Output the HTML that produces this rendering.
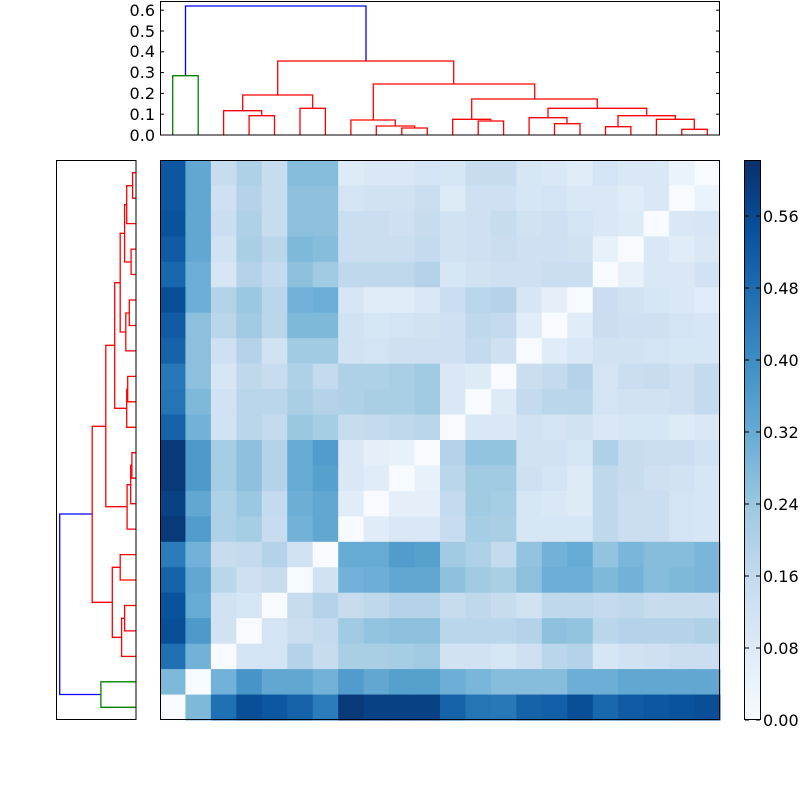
<!DOCTYPE html>
<html><head><meta charset="utf-8"><style>
html,body{margin:0;padding:0;background:#fff;width:800px;height:800px;overflow:hidden}
svg{display:block}
text{font-family:"DejaVu Sans","Liberation Sans",sans-serif;font-size:16px;fill:#000}
</style></head><body>
<svg id="s" width="800" height="800" xmlns="http://www.w3.org/2000/svg">
<defs>
<linearGradient id="cb" x1="0" y1="1" x2="0" y2="0">
<stop offset="0" stop-color="#f7fbff"/><stop offset="0.125" stop-color="#deebf7"/>
<stop offset="0.25" stop-color="#c6dbef"/><stop offset="0.375" stop-color="#9ecae1"/>
<stop offset="0.5" stop-color="#6baed6"/><stop offset="0.625" stop-color="#4292c6"/>
<stop offset="0.75" stop-color="#2171b5"/><stop offset="0.875" stop-color="#08519c"/>
<stop offset="1" stop-color="#08306b"/></linearGradient>
</defs>
<g id="heat"></g>
<g id="dtop" fill="none" stroke-width="1.3"></g>
<g id="dleft" fill="none" stroke-width="1.3"></g>
<rect x="160.5" y="1.5" width="559" height="133.5" fill="none" stroke="#000" stroke-width="1"/>
<rect x="56.5" y="160.5" width="79.5" height="559" fill="none" stroke="#000" stroke-width="1"/>
<rect x="160.5" y="160.5" width="559" height="559" fill="none" stroke="#000" stroke-width="1"/>
<rect x="745" y="160" width="15" height="560" fill="url(#cb)"/>
<rect x="744.5" y="160.5" width="16" height="559" fill="none" stroke="#000" stroke-width="1"/>
<g id="ticks" stroke="#000" stroke-width="1"></g>
<g text-anchor="end">
<text x="155" y="141">0.0</text><text x="155" y="120">0.1</text><text x="155" y="99">0.2</text>
<text x="155" y="78">0.3</text><text x="155" y="57">0.4</text><text x="155" y="37">0.5</text><text x="155" y="16">0.6</text>
</g>
<g>
<text x="763" y="726">0.00</text><text x="763" y="654">0.08</text><text x="763" y="582">0.16</text>
<text x="763" y="510">0.24</text><text x="763" y="438">0.32</text><text x="763" y="366">0.40</text>
<text x="763" y="294">0.48</text><text x="763" y="222">0.56</text>
</g>
</svg>
<script>
var M=[
[0.53,0.33,0.15,0.2,0.15,0.27,0.27,0.08,0.09,0.09,0.11,0.1,0.15,0.15,0.1,0.09,0.07,0.11,0.09,0.09,0.04,0],
[0.53,0.33,0.13,0.19,0.15,0.26,0.26,0.11,0.12,0.12,0.14,0.08,0.13,0.13,0.1,0.11,0.09,0.09,0.07,0.09,0,0.04],
[0.54,0.33,0.14,0.2,0.15,0.26,0.26,0.14,0.14,0.13,0.15,0.12,0.13,0.15,0.12,0.13,0.11,0.09,0.08,0,0.09,0.1],
[0.52,0.33,0.12,0.21,0.18,0.28,0.27,0.14,0.14,0.14,0.16,0.12,0.13,0.14,0.13,0.13,0.12,0.05,0,0.09,0.07,0.09],
[0.49,0.31,0.1,0.19,0.16,0.26,0.23,0.17,0.17,0.17,0.19,0.1,0.12,0.13,0.13,0.14,0.14,0,0.05,0.09,0.09,0.12],
[0.55,0.31,0.19,0.24,0.18,0.3,0.31,0.1,0.07,0.07,0.09,0.14,0.18,0.19,0.1,0.06,0,0.14,0.12,0.1,0.09,0.07],
[0.52,0.26,0.18,0.23,0.18,0.28,0.28,0.12,0.1,0.11,0.12,0.13,0.17,0.16,0.07,0,0.07,0.14,0.13,0.13,0.11,0.1],
[0.5,0.26,0.13,0.19,0.12,0.23,0.23,0.12,0.11,0.13,0.13,0.13,0.16,0.13,0,0.07,0.09,0.12,0.12,0.11,0.1,0.1],
[0.45,0.26,0.1,0.17,0.15,0.2,0.16,0.2,0.2,0.21,0.23,0.09,0.08,0,0.14,0.16,0.19,0.11,0.14,0.15,0.13,0.16],
[0.46,0.28,0.12,0.18,0.18,0.21,0.19,0.2,0.21,0.21,0.23,0.09,0,0.08,0.16,0.18,0.18,0.11,0.12,0.12,0.13,0.16],
[0.5,0.3,0.12,0.18,0.16,0.24,0.22,0.15,0.16,0.17,0.18,0,0.09,0.09,0.12,0.11,0.12,0.09,0.1,0.1,0.08,0.09],
[0.6,0.37,0.22,0.26,0.19,0.32,0.36,0.09,0.06,0.05,0,0.19,0.25,0.25,0.12,0.12,0.1,0.2,0.15,0.14,0.14,0.12],
[0.6,0.37,0.22,0.26,0.19,0.32,0.35,0.09,0.07,0,0.05,0.18,0.23,0.23,0.13,0.11,0.08,0.17,0.15,0.13,0.12,0.1],
[0.58,0.33,0.2,0.24,0.16,0.31,0.33,0.07,0,0.06,0.06,0.16,0.23,0.22,0.1,0.09,0.08,0.17,0.14,0.14,0.11,0.1],
[0.6,0.36,0.2,0.22,0.15,0.3,0.33,0,0.07,0.09,0.09,0.15,0.22,0.21,0.1,0.1,0.1,0.17,0.14,0.14,0.11,0.1],
[0.44,0.3,0.15,0.16,0.19,0.12,0,0.32,0.32,0.36,0.35,0.23,0.2,0.16,0.25,0.3,0.32,0.25,0.29,0.27,0.27,0.29],
[0.5,0.33,0.18,0.13,0.15,0,0.12,0.3,0.31,0.33,0.33,0.26,0.23,0.21,0.26,0.31,0.31,0.28,0.3,0.27,0.28,0.29],
[0.54,0.32,0.12,0.1,0,0.15,0.19,0.15,0.17,0.19,0.19,0.15,0.17,0.15,0.12,0.17,0.17,0.16,0.17,0.15,0.15,0.15],
[0.55,0.37,0.12,0,0.11,0.14,0.16,0.23,0.25,0.26,0.26,0.18,0.18,0.18,0.19,0.26,0.25,0.18,0.19,0.19,0.19,0.2],
[0.47,0.3,0,0.11,0.11,0.19,0.15,0.21,0.21,0.22,0.23,0.12,0.12,0.1,0.13,0.18,0.19,0.1,0.12,0.13,0.14,0.14],
[0.28,0,0.3,0.38,0.33,0.33,0.3,0.36,0.33,0.35,0.35,0.31,0.29,0.27,0.27,0.27,0.31,0.31,0.33,0.33,0.33,0.33],
[0,0.28,0.47,0.55,0.53,0.5,0.44,0.6,0.58,0.58,0.58,0.5,0.46,0.45,0.5,0.51,0.55,0.49,0.52,0.53,0.54,0.55]];
var C=[[247,251,255],[222,235,247],[198,219,239],[158,202,225],[107,174,214],[66,146,198],[33,113,181],[8,81,156],[8,48,107]];
function col(v){var f=Math.max(0,Math.min(1,v/0.622))*8,i=Math.min(7,Math.floor(f)),t=f-i;
var a=C[i],b=C[i+1];return 'rgb('+[0,1,2].map(function(k){return Math.round(a[k]+(b[k]-a[k])*t)}).join(',')+')';}
var NS='http://www.w3.org/2000/svg',cw=560/22,h='';
for(var r=0;r<22;r++)for(var c=0;c<22;c++){
h+='<rect x="'+(160+c*cw).toFixed(2)+'" y="'+(160+r*cw).toFixed(2)+'" width="'+(cw+0.5).toFixed(2)+'" height="'+(cw+0.5).toFixed(2)+'" fill="'+col(M[r][c])+'"/>';}
document.getElementById('heat').innerHTML=h;
// top dendrogram links: [xl, yl_bottom, xr, yr_bottom, ytop, color]
var L=[
[185.5,75.7,366,61,6,'#0000ff'],
[172.7,135,198.2,135,75.7,'#008000'],
[277.7,95,453.7,84,61,'#ff0000'],
[242.7,110.7,312.7,108.3,95,'#ff0000'],
[223.6,135,261.7,115.7,110.7,'#ff0000'],
[249.1,135,274.5,135,115.7,'#ff0000'],
[300,135,325.4,135,108.3,'#ff0000'],
[373.3,120,534.7,99,84,'#ff0000'],
[350.9,135,395.3,126,120,'#ff0000'],
[376.3,135,414.7,128,126,'#ff0000'],
[401.8,135,427.3,135,128,'#ff0000'],
[471.7,119.3,597.3,108.3,99,'#ff0000'],
[452.7,135,490.7,121,119.3,'#ff0000'],
[478.2,135,503.6,135,121,'#ff0000'],
[548,117.7,646.7,115.7,108.3,'#ff0000'],
[529.1,135,567,123.7,117.7,'#ff0000'],
[554.5,135,580,135,123.7,'#ff0000'],
[618,126.7,675.3,119.3,115.7,'#ff0000'],
[605.5,135,630.9,135,126.7,'#ff0000'],
[656.4,135,694.3,129.3,119.3,'#ff0000'],
[681.8,135,707.3,135,129.3,'#ff0000']];
var t='',l='';
function lx(y){return 136-((135-y)/208)*123;}
L.forEach(function(k){
t+='<polyline stroke="'+k[5]+'" points="'+k[0]+','+k[1]+' '+k[0]+','+k[4]+' '+k[2]+','+k[4]+' '+k[2]+','+k[3]+'"/>';
var y1=880-k[0],y2=880-k[2];
l+='<polyline stroke="'+k[5]+'" points="'+lx(k[1]).toFixed(1)+','+y1+' '+lx(k[4]).toFixed(1)+','+y1+' '+lx(k[4]).toFixed(1)+','+y2+' '+lx(k[3]).toFixed(1)+','+y2+'"/>';
});
document.getElementById('dtop').innerHTML=t;
document.getElementById('dleft').innerHTML=l;
var tk='';
for(var i=0;i<=6;i++){var y=135-i*20.8;tk+='<line x1="160" y1="'+y+'" x2="164" y2="'+y+'"/><line x1="716" y1="'+y+'" x2="720" y2="'+y+'"/>';}
for(var i=0;i<=7;i++){var y=720-i*72;tk+='<line x1="745" y1="'+y+'" x2="749" y2="'+y+'"/><line x1="756" y1="'+y+'" x2="760" y2="'+y+'"/>';}
document.getElementById('ticks').innerHTML=tk;
</script>
</body></html>
